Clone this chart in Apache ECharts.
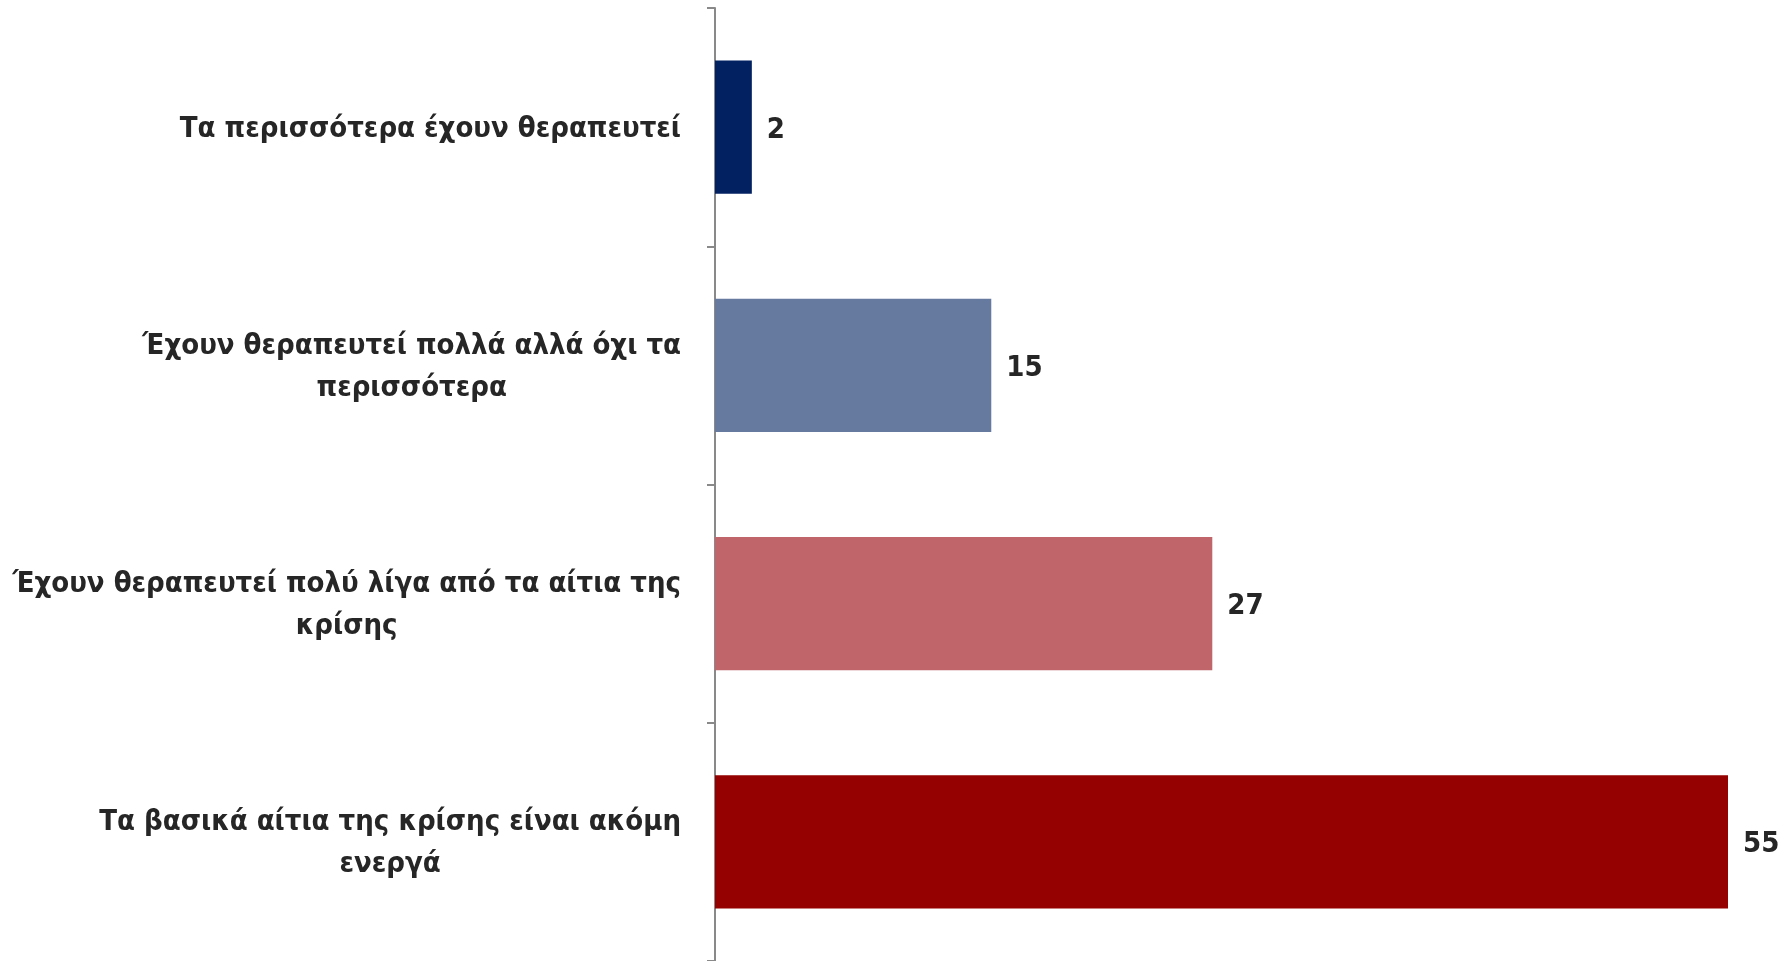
<!DOCTYPE html>
<html>
<head>
<meta charset="utf-8">
<script src="https://cdn.jsdelivr.net/npm/echarts@6/dist/echarts.min.js"></script>
<style>
html,body{margin:0;padding:0;background:#fff;}
#chart{width:1788px;height:961px;}
</style>
</head>
<body>
<div id="chart"></div>
<script>
const categories = [
  'Τα περισσότερα έχουν θεραπευτεί',
  'Έχουν θεραπευτεί πολλά αλλά όχι τα\nπερισσότερα',
  'Έχουν θεραπευτεί πολύ λίγα από τα αίτια της\nκρίσης',
  'Τα βασικά αίτια της κρίσης είναι ακόμη\nενεργά'
];
const values = [2, 15, 27, 55];
const barColors = ['#022160', '#66799F', '#C0666A', '#950000'];

const FONT = '"Liberation Sans Narrow", "Arial Narrow", "DejaVu Sans Condensed", sans-serif';
const TEXT = '#262626';
const FS = 29;

const chart = echarts.init(document.getElementById('chart'), null, {renderer: 'canvas'});
chart.setOption({
  animation: false,
  backgroundColor: '#fff',
  grid: {left: 715, right: 60, top: 8, bottom: 0, containLabel: false, outerBoundsMode: 'none'},
  xAxis: {
    type: 'value', min: 0, max: 55,
    show: false
  },
  yAxis: {
    type: 'category',
    inverse: true,
    data: categories,
    axisLine: {show: true, lineStyle: {color: '#898989', width: 2}},
    axisTick: {show: true, length: 8, lineStyle: {color: '#898989', width: 2}},
    splitLine: {show: false},
    axisLabel: {
      margin: 34,
      align: 'right',
      color: TEXT,
      fontSize: FS,
      fontWeight: 'bold',
      fontFamily: FONT,
      lineHeight: 42,
      padding: [4, 0, 0, 0],
      formatter: function (v) {
        return v.split('\n').map(l => '{c|' + l + '}').join('\n');
      },
      rich: {
        c: {align: 'center', color: TEXT, fontSize: FS, fontWeight: 'bold', fontFamily: FONT, lineHeight: 42}
      }
    }
  },
  series: [{
    type: 'bar',
    data: values.map((v, i) => ({value: v, itemStyle: {color: barColors[i]}})),
    barCategoryGap: '44%',
    label: {
      show: true,
      position: 'right',
      distance: 15,
      offset: [0, 3],
      color: TEXT,
      fontSize: FS,
      fontWeight: 'bold',
      fontFamily: FONT
    }
  }]
});
</script>
</body>
</html>
